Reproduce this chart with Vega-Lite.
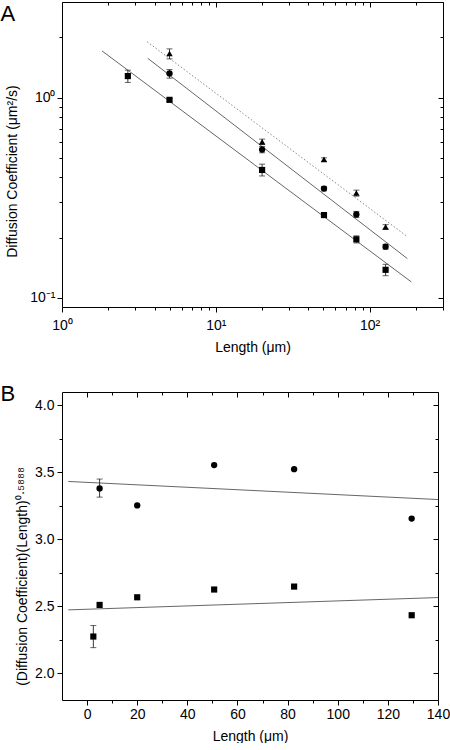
{
  "$schema": "https://vega.github.io/schema/vega-lite/v6.json",
  "padding": {"left": 0, "top": 1, "right": 0, "bottom": 0},
  "background": "white",
  "spacing": 28,
  "config": {
    "font": "Liberation Sans",
    "view": {"stroke": null},
    "axis": {
      "labelFont": "Liberation Sans", "labelFontSize": 14, "labelColor": "black",
      "titleFont": "Liberation Sans", "titleFontSize": 14, "titleFontWeight": "normal", "titleColor": "black",
      "domainColor": "black", "domainWidth": 1, "tickColor": "black", "tickWidth": 1,
      "grid": false, "labelOverlap": false, "labelFlush": false, "labelBound": false
    }
  },
  "datasets": {
    "ptsA": [
      {"series": "square", "len": 2.68, "D": 1.28, "lo": 1.19, "hi": 1.37},
      {"series": "square", "len": 5, "D": 0.974, "lo": 0.955, "hi": 0.99},
      {"series": "square", "len": 20, "D": 0.435, "lo": 0.406, "hi": 0.465},
      {"series": "square", "len": 50.5, "D": 0.259, "lo": 0.252, "hi": 0.266},
      {"series": "square", "len": 82, "D": 0.196, "lo": 0.188, "hi": 0.204},
      {"series": "square", "len": 127, "D": 0.138, "lo": 0.129, "hi": 0.147},
      {"series": "circle", "len": 5, "D": 1.32, "lo": 1.25, "hi": 1.38},
      {"series": "circle", "len": 20, "D": 0.55, "lo": 0.53, "hi": 0.57},
      {"series": "circle", "len": 50.5, "D": 0.351, "lo": 0.342, "hi": 0.36},
      {"series": "circle", "len": 82, "D": 0.261, "lo": 0.252, "hi": 0.27},
      {"series": "circle", "len": 127, "D": 0.18, "lo": 0.175, "hi": 0.185},
      {"series": "triangle", "len": 5, "D": 1.66, "lo": 1.56, "hi": 1.75},
      {"series": "triangle", "len": 20, "D": 0.601, "lo": 0.585, "hi": 0.62},
      {"series": "triangle", "len": 50.5, "D": 0.491, "lo": 0.48, "hi": 0.5},
      {"series": "triangle", "len": 82, "D": 0.334, "lo": 0.322, "hi": 0.345},
      {"series": "triangle", "len": 127, "D": 0.226, "lo": 0.22, "hi": 0.232}
    ],
    "fitA": [
      {"series": "square", "len": 1.82, "D": 1.71},
      {"series": "square", "len": 187, "D": 0.12},
      {"series": "circle", "len": 3.61, "D": 1.57},
      {"series": "circle", "len": 176, "D": 0.157},
      {"series": "triangle", "len": 3.58, "D": 1.9},
      {"series": "triangle", "len": 176, "D": 0.202}
    ],
    "ptsB": [
      {"series": "square", "len": 2.5, "v": 2.274, "lo": 2.191, "hi": 2.356},
      {"series": "square", "len": 5, "v": 2.51},
      {"series": "square", "len": 20, "v": 2.567},
      {"series": "square", "len": 50.7, "v": 2.625},
      {"series": "square", "len": 82.6, "v": 2.647},
      {"series": "square", "len": 129.5, "v": 2.433},
      {"series": "circle", "len": 5, "v": 3.38, "lo": 3.315, "hi": 3.45},
      {"series": "circle", "len": 20, "v": 3.253},
      {"series": "circle", "len": 50.7, "v": 3.554},
      {"series": "circle", "len": 82.6, "v": 3.524},
      {"series": "circle", "len": 129.5, "v": 3.155}
    ],
    "fitB": [
      {"series": "circle", "len": -7.5, "v": 3.432},
      {"series": "circle", "len": 140, "v": 3.297},
      {"series": "square", "len": -7.5, "v": 2.473},
      {"series": "square", "len": 140, "v": 2.565}
    ]
  },
  "vconcat": [
    {
      "width": 381, "height": 305,
      "layer": [
        {
          "data": {"name": "fitA"},
          "transform": [{"filter": "datum.series != 'triangle'"}],
          "mark": {"type": "line", "color": "#555555", "strokeWidth": 0.9},
          "encoding": {
            "x": {"field": "len", "type": "quantitative", "scale": {"type": "log", "domain": [1, 300], "nice": false}, "axis": null},
            "y": {"field": "D", "type": "quantitative", "scale": {"type": "log", "domain": [0.09, 3], "nice": false}, "axis": null},
            "detail": {"field": "series"}
          }
        },
        {
          "data": {"name": "fitA"},
          "transform": [{"filter": "datum.series == 'triangle'"}],
          "mark": {"type": "line", "color": "#888888", "strokeWidth": 1, "strokeDash": [1.5, 2]},
          "encoding": {
            "x": {"field": "len", "type": "quantitative", "axis": null},
            "y": {"field": "D", "type": "quantitative", "axis": null}
          }
        },
        {
          "data": {"name": "ptsA"},
          "mark": {"type": "errorbar", "ticks": {"size": 6, "color": "#222222", "thickness": 1}, "rule": {"color": "#222222", "strokeWidth": 0.9}},
          "encoding": {
            "x": {"field": "len", "type": "quantitative", "axis": null},
            "y": {"field": "lo", "type": "quantitative", "axis": null},
            "y2": {"field": "hi"}
          }
        },
        {
          "data": {"name": "ptsA"},
          "mark": {"type": "point", "filled": true, "color": "black", "opacity": 1},
          "encoding": {
            "x": {"field": "len", "type": "quantitative",
              "axis": {"orient": "bottom", "title": "Length (μm)",
                "values": [1, 2, 3, 4, 5, 6, 7, 8, 9, 10, 20, 30, 40, 50, 60, 70, 80, 90, 100, 200, 300],
                "labelExpr": "datum.value == 1 ? '10⁰' : datum.value == 10 ? '10¹' : datum.value == 100 ? '10²' : ''",
                "tickSize": {"condition": {"test": "datum.value == 1 || datum.value == 10 || datum.value == 100", "value": 5}, "value": 3},
                "labelPadding": 6, "titlePadding": 8}},
            "y": {"field": "D", "type": "quantitative",
              "axis": {"orient": "left", "title": "Diffusion Coefficient (μm²/s)",
                "values": [0.1, 0.2, 0.3, 0.4, 0.5, 0.6, 0.7, 0.8, 0.9, 1, 2],
                "labelExpr": "datum.value == 1 ? '10⁰' : datum.value == 0.1 ? '10⁻¹' : ''",
                "tickSize": {"condition": {"test": "datum.value == 1 || datum.value == 0.1", "value": 5}, "value": 3},
                "labelPadding": 2, "titlePadding": 10, "titleY": 169}},
            "shape": {"field": "series", "type": "nominal", "scale": {"domain": ["square", "circle", "triangle"], "range": ["square", "circle", "triangle-up"]}, "legend": null},
            "size": {"field": "series", "type": "nominal", "scale": {"domain": ["square", "circle", "triangle"], "range": [38, 42, 62]}, "legend": null}
          }
        },
        {
          "data": {"name": "ptsA"},
          "mark": {"type": "point", "opacity": 0},
          "encoding": {
            "x": {"field": "len", "type": "quantitative",
              "axis": {"orient": "top", "title": "A", "titleX": -62, "titleY": 18.5, "titleAngle": 0, "titleAlign": "left", "titleBaseline": "alphabetic", "titleFontSize": 22, "labels": false,
                "values": [1, 2, 3, 4, 5, 6, 7, 8, 9, 10, 20, 30, 40, 50, 60, 70, 80, 90, 100, 200, 300],
                "tickSize": {"condition": {"test": "datum.value == 1 || datum.value == 10 || datum.value == 100", "value": -5}, "value": -3}}},
            "y": {"field": "D", "type": "quantitative",
              "axis": {"orient": "right", "title": null, "labels": false,
                "values": [0.1, 0.2, 0.3, 0.4, 0.5, 0.6, 0.7, 0.8, 0.9, 1, 2, 3],
                "tickSize": {"condition": {"test": "datum.value == 1 || datum.value == 0.1", "value": -5}, "value": -3}}}
          }
        }
      ],
      "resolve": {"axis": {"x": "independent", "y": "independent"}}
    },
    {
      "width": 376, "height": 308,
      "layer": [
        {
          "data": {"name": "fitB"},
          "mark": {"type": "line", "color": "#555555", "strokeWidth": 0.9},
          "encoding": {
            "x": {"field": "len", "type": "quantitative", "scale": {"domain": [-10, 140], "nice": false, "zero": false}, "axis": null},
            "y": {"field": "v", "type": "quantitative", "scale": {"domain": [1.8, 4.1], "nice": false, "zero": false}, "axis": null},
            "detail": {"field": "series"}
          }
        },
        {
          "data": {"name": "ptsB"},
          "transform": [{"filter": "isValid(datum.lo)"}],
          "mark": {"type": "errorbar", "ticks": {"size": 6, "color": "#222222", "thickness": 1}, "rule": {"color": "#222222", "strokeWidth": 0.9}},
          "encoding": {
            "x": {"field": "len", "type": "quantitative", "axis": null},
            "y": {"field": "lo", "type": "quantitative", "axis": null},
            "y2": {"field": "hi"}
          }
        },
        {
          "data": {"name": "ptsB"},
          "mark": {"type": "point", "filled": true, "color": "black", "opacity": 1},
          "encoding": {
            "x": {"field": "len", "type": "quantitative",
              "axis": {"orient": "bottom", "title": "Length (μm)",
                "values": [0, 10, 20, 30, 40, 50, 60, 70, 80, 90, 100, 110, 120, 130, 140],
                "labelExpr": "datum.value % 20 == 0 ? format(datum.value, 'd') : ''",
                "tickSize": {"condition": {"test": "datum.value % 20 == 0", "value": 5}, "value": 3},
                "labelPadding": 2, "titlePadding": 8}},
            "y": {"field": "v", "type": "quantitative",
              "axis": {"orient": "left", "title": "(Diffusion Coefficient)(Length)⁰·⁵⁸⁸⁸",
                "values": [2, 2.25, 2.5, 2.75, 3, 3.25, 3.5, 3.75, 4],
                "labelExpr": "(datum.value * 2) % 1 == 0 ? format(datum.value, '.1f') : ''",
                "tickSize": {"condition": {"test": "(datum.value * 2) % 1 == 0", "value": 5}, "value": 3},
                "labelPadding": 3, "titlePadding": 5, "titleY": 184}},
            "shape": {"field": "series", "type": "nominal", "scale": {"domain": ["square", "circle"], "range": ["square", "circle"]}, "legend": null},
            "size": {"field": "series", "type": "nominal", "scale": {"domain": ["square", "circle"], "range": [56, 64]}, "legend": null}
          }
        },
        {
          "data": {"name": "ptsB"},
          "mark": {"type": "point", "opacity": 0},
          "encoding": {
            "x": {"field": "len", "type": "quantitative",
              "axis": {"orient": "top", "title": "B", "titleX": -62, "titleY": 8, "titleAngle": 0, "titleAlign": "left", "titleBaseline": "alphabetic", "titleFontSize": 22, "labels": false,
                "values": [0, 10, 20, 30, 40, 50, 60, 70, 80, 90, 100, 110, 120, 130, 140],
                "tickSize": {"condition": {"test": "datum.value % 20 == 0", "value": -5}, "value": -3}}},
            "y": {"field": "v", "type": "quantitative",
              "axis": {"orient": "right", "title": null, "labels": false,
                "values": [2, 2.25, 2.5, 2.75, 3, 3.25, 3.5, 3.75, 4],
                "tickSize": {"condition": {"test": "(datum.value * 2) % 1 == 0", "value": -5}, "value": -3}}}
          }
        }
      ],
      "resolve": {"axis": {"x": "independent", "y": "independent"}}
    }
  ]
}
